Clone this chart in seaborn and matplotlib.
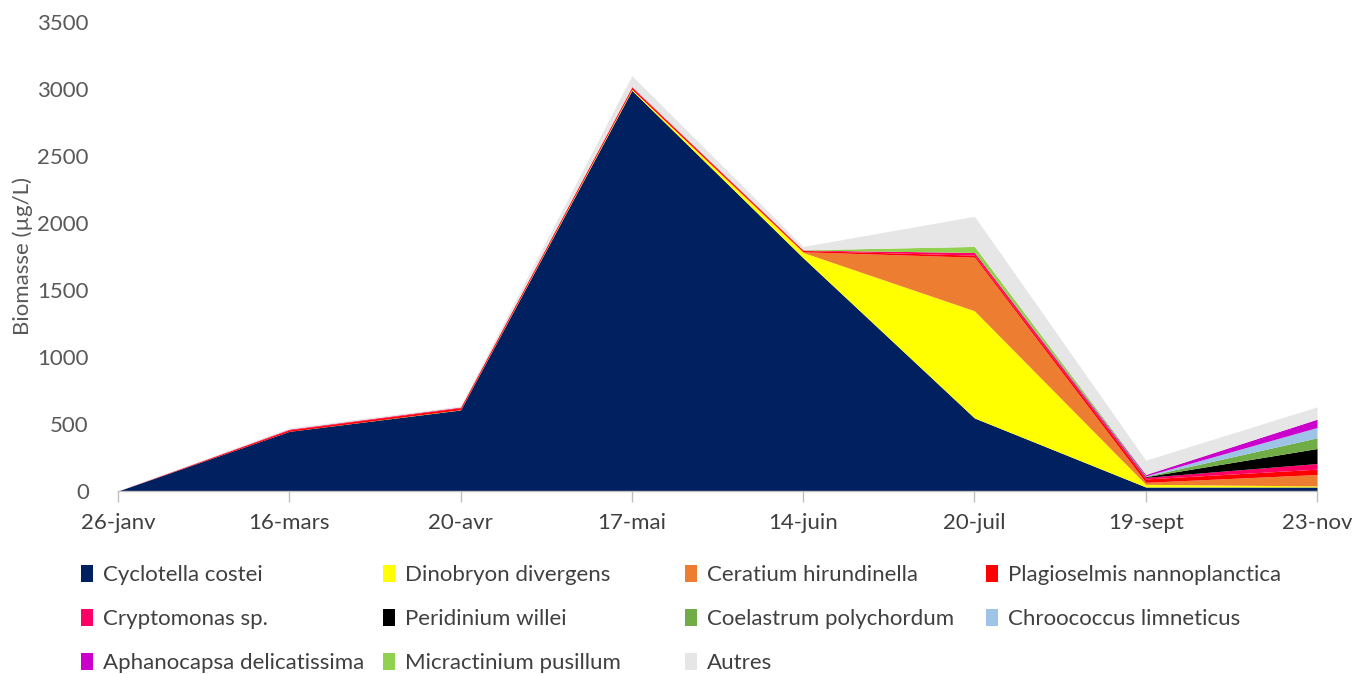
import numpy as np
import pandas as pd
import matplotlib
matplotlib.use("Agg")
import matplotlib.pyplot as plt
from matplotlib.patches import Patch
import seaborn as sns

# ---- data (biomasse, µg/L)
dates = ['26-janv', '16-mars', '20-avr', '17-mai', '14-juin', '20-juil', '19-sept', '23-nov']
cyclotella = [0, 445, 605, 2990, 1740, 545, 30, 30]
dinobryon = [0, 0, 2, 8, 40, 800, 20, 8]
ceratium = [0, 0, 0, 0, 5, 400, 15, 85]
plagioselmis = [0, 12, 15, 15, 10, 15, 25, 40]
cryptomonas = [0, 5, 5, 5, 3, 20, 12, 42]
peridinium = [0, 0, 0, 0, 0, 0, 5, 112]
coelastrum = [0, 0, 0, 0, 0, 0, 3, 80]
chroococcus = [0, 0, 0, 0, 0, 0, 3, 77]
aphanocapsa = [0, 0, 0, 0, 0, 0, 10, 62]
micractinium = [0, 0, 0, 0, 2, 45, 2, 0]
autres = [0, 8, 8, 82, 25, 225, 105, 92]

species = ['Cyclotella costei', 'Dinobryon divergens', 'Ceratium hirundinella',
           'Plagioselmis nannoplanctica', 'Cryptomonas sp.', 'Peridinium willei',
           'Coelastrum polychordum', 'Chroococcus limneticus',
           'Aphanocapsa delicatissima', 'Micractinium pusillum', 'Autres']
colors = ['#002060', '#FFFF00', '#ED7D31', '#FF0000', '#FF0066', '#000000',
          '#70AD47', '#9DC3E6', '#CC00CC', '#92D050', '#E7E6E6']

df = pd.DataFrame({
    species[0]: cyclotella, species[1]: dinobryon, species[2]: ceratium,
    species[3]: plagioselmis, species[4]: cryptomonas, species[5]: peridinium,
    species[6]: coelastrum, species[7]: chroococcus, species[8]: aphanocapsa,
    species[9]: micractinium, species[10]: autres,
}, index=dates)

sns.set_theme(style="white")
plt.rcParams['font.family'] = ['Lato', 'DejaVu Sans']

fig = plt.figure(figsize=(13.54, 6.74), dpi=100)
ax = fig.add_axes([0.0871, 0.2715, 0.8856, 0.6959])

x = np.arange(len(dates))
ax.stackplot(x, [df[s].values for s in species], colors=colors, linewidth=0)

ax.set_xlim(0, len(dates) - 1)
ax.set_ylim(0, 3500)
ax.set_yticks(np.arange(0, 3501, 500))
ax.set_xticks(x)
ax.set_xticklabels(dates)
ax.tick_params(axis='x', labelsize=16, colors='#404040', length=8, width=1,
               direction='out', pad=8, color='#BFBFBF', bottom=True)
ax.tick_params(axis='y', labelsize=16, colors='#595959', length=0, pad=21)
ax.set_ylabel('Biomasse (µg/L)', fontsize=16, color='#595959', labelpad=3)

for side in ['left', 'right', 'top']:
    ax.spines[side].set_visible(False)
ax.spines['bottom'].set_color('#BFBFBF')
ax.spines['bottom'].set_linewidth(1)
ax.grid(False)

# legend: 4 equal-width columns, filled row by row like the original
col_x = [0.060, 0.283, 0.506, 0.728]
for c in range(4):
    idx = [i for i in range(len(species)) if i % 4 == c]
    handles = [Patch(facecolor=colors[i], edgecolor='none', label=species[i]) for i in idx]
    fig.legend(handles=handles, loc='upper left', bbox_to_anchor=(col_x[c], 0.162),
               frameon=False, fontsize=16, labelcolor='#404040',
               handlelength=0.55, handleheight=0.8, handletextpad=0.45,
               labelspacing=1.08, borderaxespad=0, borderpad=0)

fig.savefig('out.png', dpi=100)
